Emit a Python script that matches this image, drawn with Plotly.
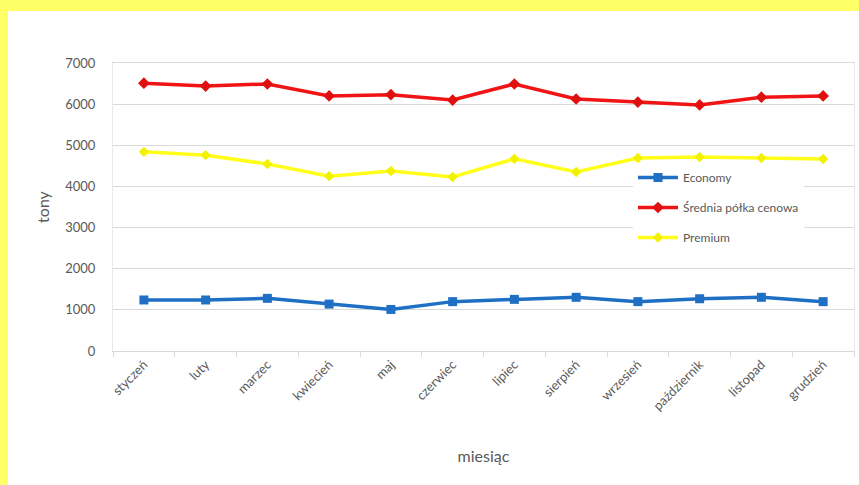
import plotly.graph_objects as go

months = ["styczeń", "luty", "marzec", "kwiecień", "maj", "czerwiec", "lipiec",
          "sierpień", "wrzesień", "październik", "listopad", "grudzień"]
economy = [1240, 1240, 1280, 1140, 1010, 1200, 1255, 1305, 1200, 1270, 1305, 1200]
srednia = [6510, 6440, 6490, 6200, 6230, 6100, 6490, 6125, 6050, 5980, 6170, 6200]
premium = [4840, 4760, 4545, 4250, 4375, 4230, 4670, 4350, 4690, 4715, 4690, 4665]
y_ticks = [0, 1000, 2000, 3000, 4000, 5000, 6000, 7000]

W, H = 859, 485
L, R, T, B = 113, 5, 63, 134
pw, ph = W - L - R, H - T - B

def px_x(p):
    return (p - L) / pw

def px_y(p):
    return (H - B - p) / ph

fig = go.Figure()
fig.add_trace(go.Scatter(x=months, y=economy, name="Economy", mode="lines+markers",
                         legendgroup="a",
                         line=dict(color="#1F6FC5", width=3.5),
                         marker=dict(symbol="square", size=9, color="#1F6FC5")))
fig.add_trace(go.Scatter(x=months, y=srednia, name="Średnia półka cenowa", mode="lines+markers",
                         legendgroup="b",
                         line=dict(color="#F01414", width=3.5),
                         marker=dict(symbol="diamond", size=9, color="#E01010")))
fig.add_trace(go.Scatter(x=months, y=premium, name="Premium", mode="lines+markers",
                         legendgroup="c",
                         line=dict(color="#FFFF1A", width=3.5),
                         marker=dict(symbol="diamond", size=8, color="#F2F200")))

fig.add_shape(type="rect", xref="paper", yref="paper", layer="below",
              x0=px_x(8), x1=px_x(862), y0=px_y(490), y1=px_y(11),
              fillcolor="white", line=dict(width=0))

fig.update_layout(
    width=W, height=H,
    margin=dict(l=L, r=R, t=T, b=B),
    paper_bgcolor="#FFFF66",
    plot_bgcolor="white",
    font=dict(family="Lato, Open Sans, sans-serif", color="#595959", size=12),
    showlegend=True,
    legend=dict(x=px_x(633), y=px_y(163), xanchor="left", yanchor="top",
                bgcolor="white", font=dict(size=12, color="#595959"),
                tracegroupgap=11, itemwidth=40),
    xaxis=dict(
        type="category", tickangle=-45, showgrid=False,
        showline=True, linecolor="#D9D9D9", linewidth=1, mirror=True,
        ticks="outside", tickson="boundaries", ticklen=5, tickcolor="#D9D9D9",
        tickfont=dict(size=13, color="#595959"),
        range=[-0.5, 11.5],
        title=dict(text="miesiąc", font=dict(size=16, color="#595959"), standoff=38),
    ),
    yaxis=dict(
        range=[0, 7000], tickvals=y_ticks, showgrid=True, gridcolor="#D9D9D9",
        gridwidth=1, zeroline=False, showline=True, linecolor="#E8E8E8", mirror=True,
        tickfont=dict(size=13, color="#595959"), ticklabelstandoff=14,
        title=dict(text="tony", font=dict(size=16, color="#595959"), standoff=11),
    ),
)

fig.write_html("out.html")
